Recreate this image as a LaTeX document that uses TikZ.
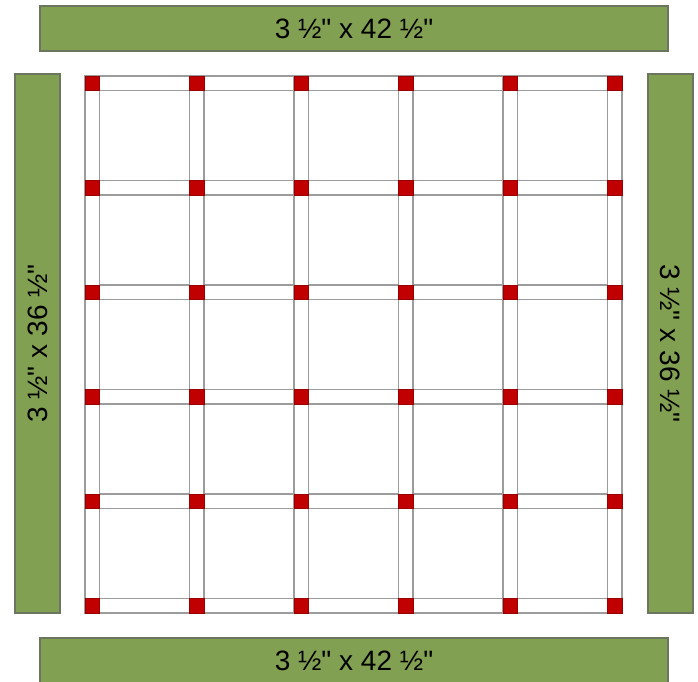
\documentclass[tikz,border=0pt]{standalone}
\usepackage{fontspec}
\newfontfamily\quiltfont{Liberation Sans}
\usetikzlibrary{positioning}
\definecolor{qgreen}{HTML}{82A052}
\definecolor{qedge}{HTML}{6B7560}
\definecolor{qred}{HTML}{C00000}
\definecolor{qline}{HTML}{9C9C9C}

\begin{document}
\begin{tikzpicture}[
  x=0.75pt, y=-0.75pt,
  every node/.style={font=\quiltfont\fontsize{21}{25}\selectfont},
  bar/.style={fill=qgreen, draw=qedge, line width=0.9pt},
  sash/.style={fill=white, draw=qline, line width=1pt},
  stone/.style={fill=qred, draw=qred!80!black, line width=0.4pt},
]
\useasboundingbox (0,0) rectangle (698,681);

% borders
\path[bar] (40,6) rectangle (668,51);
\path[bar] (40,638) rectangle (668,683);
\path[bar] (15,74) rectangle (60,613);
\path[bar] (648,74) rectangle (693,613);
\node (toplbl) at (354,29) {3 ½" x 42 ½"};
\node (botlbl) at (354,661) {3 ½" x 42 ½"};
\node[rotate=90] (leftlbl) at (37.5,343.5) {3 ½" x 36 ½"};
\node[rotate=-90] (rightlbl) at (670.5,343.5) {3 ½" x 36 ½"};

% sashing strips
\foreach \j in {0,...,5}
  \path[sash] (85,76+\j*104.5) rectangle (622,90.5+\j*104.5);
\foreach \i in {0,...,5}
  \path[sash] (85+\i*104.5,76) rectangle (99.5+\i*104.5,613);

% cornerstones
\foreach \i in {0,...,5}
  \foreach \j in {0,...,5}
    \path[stone] (85+\i*104.5,76+\j*104.5) rectangle (99.5+\i*104.5,90.5+\j*104.5);
\end{tikzpicture}
\end{document}
